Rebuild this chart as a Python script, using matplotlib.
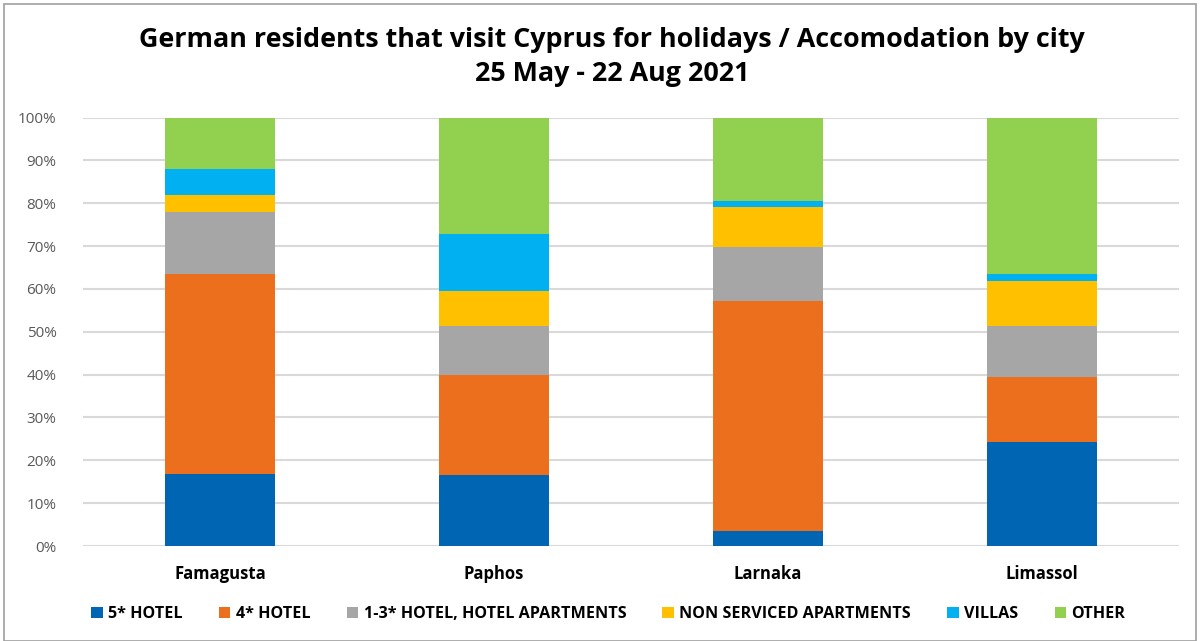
import matplotlib
matplotlib.use("Agg")
import matplotlib.pyplot as plt
from matplotlib.patches import Rectangle, Patch
from matplotlib.ticker import FuncFormatter, MultipleLocator
import numpy as np

plt.rcParams['font.family'] = ['Open Sans', 'DejaVu Sans']

cities = ["Famagusta", "Paphos", "Larnaka", "Limassol"]
series_names = ["5* HOTEL", "4* HOTEL", "1-3* HOTEL, HOTEL APARTMENTS",
                "NON SERVICED APARTMENTS", "VILLAS", "OTHER"]
hotel5 = [16.9, 16.6, 3.6, 24.3]
hotel4 = [46.6, 23.3, 53.6, 15.2]
hotel13 = [14.5, 11.5, 12.6, 11.9]
non_serviced = [3.8, 8.2, 9.4, 10.4]
villas = [6.2, 13.3, 1.4, 1.7]
other = [12.0, 27.1, 19.4, 36.5]
colors = ["#0066B3", "#EB6F1C", "#A6A6A6", "#FFC000", "#00B0F0", "#92D050"]

series = [hotel5, hotel4, hotel13, non_serviced, villas, other]

fig = plt.figure(figsize=(12, 6.41), dpi=100)
ax = fig.add_axes([83/1200, 1-546/641, 1096/1200, (546-117.5)/641])

x = np.arange(len(cities))
bottom = np.zeros(len(cities))
for vals, c, name in zip(series, colors, series_names):
    v = np.array(vals)
    ax.bar(x, v, 0.4, bottom=bottom, color=c, label=name, zorder=3)
    bottom += v

ax.set_xlim(-0.5, len(cities) - 0.5)
ax.set_ylim(0, 100)
ax.yaxis.set_major_locator(MultipleLocator(10))
ax.yaxis.set_major_formatter(FuncFormatter(lambda v, p: f"{int(v)}%"))
ax.grid(axis='y', color='#D9D9D9', linewidth=1.5, zorder=0)
for s in ax.spines.values():
    s.set_visible(False)
ax.tick_params(axis='both', length=0)
ax.tick_params(axis='y', labelsize=11, labelcolor='#595959', pad=19)
ax.set_xticks(x)
ax.set_xticklabels(cities, fontsize=12, fontweight='bold', color='black')
ax.tick_params(axis='x', pad=14)

fig.text(0.51, 1-40/641, "German residents that visit Cyprus for holidays / Accomodation by city",
         ha='center', va='center', fontsize=19.4, fontweight='bold')
fig.text(0.51, 1-74/641, "25 May - 22 Aug 2021",
         ha='center', va='center', fontsize=19.4, fontweight='bold')

handles = [Patch(facecolor=c, edgecolor='none') for c in colors]
fig.legend(handles, series_names, loc='center', bbox_to_anchor=(0.507, 1-614/641),
           ncol=6, frameon=False, handlelength=0.7, handleheight=0.7,
           handletextpad=0.35, columnspacing=2.25,
           prop={'family': 'Open Sans', 'weight': 'bold', 'size': 11.6})

fig.patches.append(Rectangle((4/1200, 0), 1192/1200, 1-4/641, transform=fig.transFigure,
                             fill=False, edgecolor='#A0A0A0', linewidth=1.2))

fig.savefig("out.png", dpi=100)
